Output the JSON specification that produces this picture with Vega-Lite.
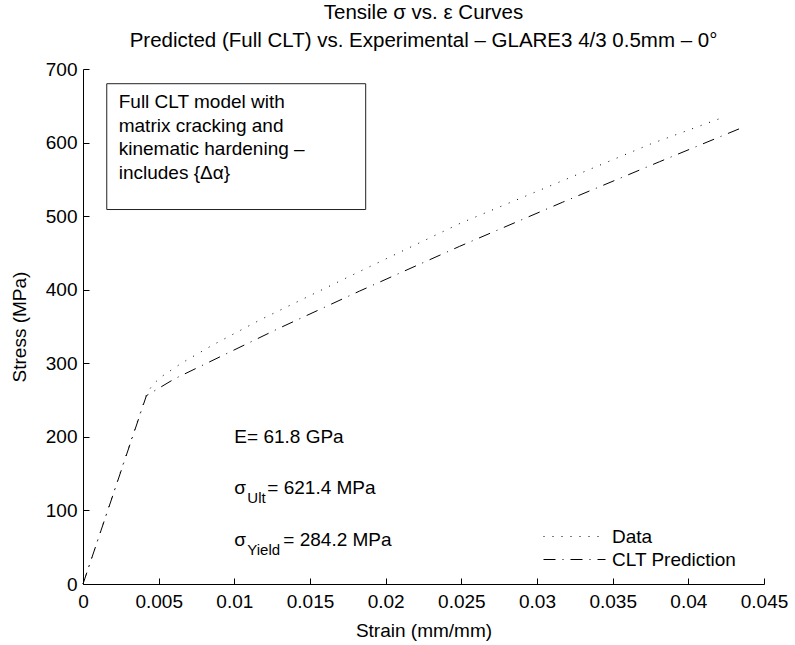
{
  "$schema": "https://vega.github.io/schema/vega-lite/v6.json",
  "width": 681,
  "height": 515,
  "autosize": {"type": "none"},
  "padding": {"left": 83, "top": 69, "right": 31, "bottom": 61},
  "background": "white",
  "config": {
    "font": "Liberation Sans",
    "view": {"stroke": null},
    "axis": {
      "domainColor": "#000000",
      "tickColor": "#000000",
      "labelColor": "#000000",
      "titleColor": "#000000",
      "labelFontSize": 19,
      "titleFontSize": 19,
      "titleFontWeight": "normal",
      "grid": false,
      "tickSize": -6,
      "domainWidth": 1,
      "tickWidth": 1
    }
  },
  "title": {
    "text": ["Tensile σ vs. ε Curves", "Predicted (Full CLT) vs. Experimental – GLARE3 4/3 0.5mm – 0°"],
    "fontSize": 20.5,
    "fontWeight": "normal",
    "color": "#000000",
    "lineHeight": 28,
    "anchor": "middle",
    "frame": "group",
    "offset": 9
  },
  "layer": [
    {
      "data": {
        "values": [
          {"series": "Data", "strain": 0, "stress": 0},
          {"series": "Data", "strain": 0.0042, "stress": 258},
          {"series": "Data", "strain": 0.0046, "stress": 271},
          {"series": "Data", "strain": 0.0052, "stress": 282},
          {"series": "Data", "strain": 0.0065, "stress": 300},
          {"series": "Data", "strain": 0.0085, "stress": 324},
          {"series": "Data", "strain": 0.0117, "stress": 359},
          {"series": "Data", "strain": 0.015, "stress": 392},
          {"series": "Data", "strain": 0.0182, "stress": 424},
          {"series": "Data", "strain": 0.0249, "stress": 490},
          {"series": "Data", "strain": 0.0319, "stress": 550},
          {"series": "Data", "strain": 0.0375, "stress": 598},
          {"series": "Data", "strain": 0.042, "stress": 632},
          {"series": "CLT Prediction", "strain": 0, "stress": 0},
          {"series": "CLT Prediction", "strain": 0.00419, "stress": 256},
          {"series": "CLT Prediction", "strain": 0.00606, "stress": 279},
          {"series": "CLT Prediction", "strain": 0.01289, "stress": 347},
          {"series": "CLT Prediction", "strain": 0.01826, "stress": 398},
          {"series": "CLT Prediction", "strain": 0.02489, "stress": 459},
          {"series": "CLT Prediction", "strain": 0.0317, "stress": 519},
          {"series": "CLT Prediction", "strain": 0.0381, "stress": 574},
          {"series": "CLT Prediction", "strain": 0.0434, "stress": 619}
        ]
      },
      "mark": {"type": "line", "color": "#000000", "strokeWidth": 1},
      "encoding": {
        "x": {
          "field": "strain",
          "type": "quantitative",
          "scale": {"domain": [0, 0.045], "nice": false, "zero": false},
          "axis": {
            "title": "Strain (mm/mm)",
            "values": [0, 0.005, 0.01, 0.015, 0.02, 0.025, 0.03, 0.035, 0.04, 0.045],
            "format": "~g",
            "labelFlush": false,
            "labelPadding": 14,
            "titlePadding": 10
          }
        },
        "y": {
          "field": "stress",
          "type": "quantitative",
          "scale": {"domain": [0, 700], "nice": false},
          "axis": {
            "title": "Stress (MPa)",
            "values": [0, 100, 200, 300, 400, 500, 600, 700],
            "labelPadding": 12,
            "titlePadding": 16
          }
        },
        "strokeDash": {
          "field": "series",
          "type": "nominal",
          "scale": {"domain": ["Data", "CLT Prediction"], "range": [[1, 8], [12, 7, 1, 7]]},
          "legend": {
            "title": null,
            "orient": "none",
            "legendX": 451,
            "legendY": 458,
            "symbolType": "M0,0H31",
            "symbolSize": 16,
            "symbolStrokeWidth": 1,
            "symbolStrokeColor": "#000000",
            "labelFontSize": 19,
            "labelColor": "#000000",
            "labelOffset": 59,
            "rowPadding": 3,
            "padding": 0
          }
        }
      }
    },
    {
      "data": {"values": [{"x1": 0.00157, "x2": 0.01868, "y1": 509, "y2": 680}]},
      "mark": {"type": "rect", "fill": "white", "stroke": "#222222", "strokeWidth": 1},
      "encoding": {
        "x": {"field": "x1", "type": "quantitative"},
        "x2": {"field": "x2"},
        "y": {"field": "y1", "type": "quantitative"},
        "y2": {"field": "y2"}
      }
    },
    {
      "data": {"values": [{"x": 0.00236, "y": 667, "label": "Full CLT model with\nmatrix cracking and\nkinematic hardening –\nincludes {Δα}"}]},
      "mark": {"type": "text", "align": "left", "baseline": "top", "fontSize": 19, "lineHeight": 23.5, "lineBreak": "\n", "color": "#000000"},
      "encoding": {
        "x": {"field": "x", "type": "quantitative"},
        "y": {"field": "y", "type": "quantitative"},
        "text": {"field": "label"}
      }
    },
    {
      "data": {"values": [
        {"x": 0.01, "y": 200, "label": "E= 61.8 GPa"},
        {"x": 0.01, "y": 130, "label": "σ"},
        {"x": 0.01, "y": 60, "label": "σ"}
      ]},
      "mark": {"type": "text", "align": "left", "baseline": "middle", "fontSize": 19, "color": "#000000"},
      "encoding": {
        "x": {"field": "x", "type": "quantitative"},
        "y": {"field": "y", "type": "quantitative"},
        "text": {"field": "label"}
      }
    },
    {
      "data": {"values": [
        {"x": 0.01, "y": 130, "label": "Ult"},
        {"x": 0.01, "y": 60, "label": "Yield"}
      ]},
      "mark": {"type": "text", "align": "left", "baseline": "middle", "fontSize": 15, "dx": 13, "dy": 10, "color": "#000000"},
      "encoding": {
        "x": {"field": "x", "type": "quantitative"},
        "y": {"field": "y", "type": "quantitative"},
        "text": {"field": "label"}
      }
    },
    {
      "data": {"values": [{"x": 0.01, "y": 130, "label": "= 621.4 MPa"}]},
      "mark": {"type": "text", "align": "left", "baseline": "middle", "fontSize": 19, "dx": 33, "color": "#000000"},
      "encoding": {
        "x": {"field": "x", "type": "quantitative"},
        "y": {"field": "y", "type": "quantitative"},
        "text": {"field": "label"}
      }
    },
    {
      "data": {"values": [{"x": 0.01, "y": 60, "label": "= 284.2 MPa"}]},
      "mark": {"type": "text", "align": "left", "baseline": "middle", "fontSize": 19, "dx": 49, "color": "#000000"},
      "encoding": {
        "x": {"field": "x", "type": "quantitative"},
        "y": {"field": "y", "type": "quantitative"},
        "text": {"field": "label"}
      }
    }
  ]
}
